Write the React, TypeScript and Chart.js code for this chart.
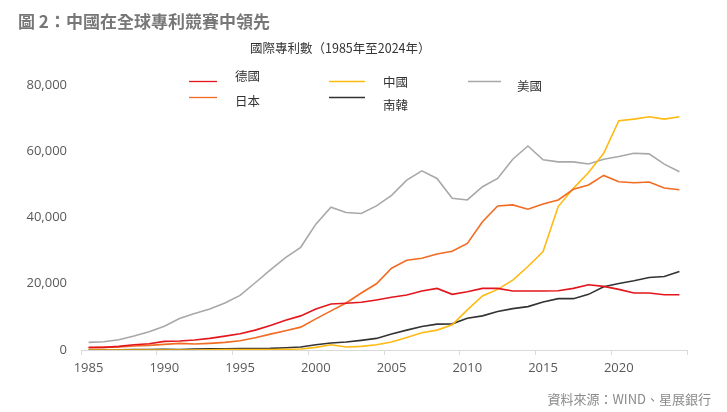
import React, { useEffect, useRef } from "react";
import { Chart, registerables } from "chart.js";

Chart.register(...registerables);

const years = [
  1985, 1986, 1987, 1988, 1989, 1990, 1991, 1992, 1993, 1994,
  1995, 1996, 1997, 1998, 1999, 2000, 2001, 2002, 2003, 2004,
  2005, 2006, 2007, 2008, 2009, 2010, 2011, 2012, 2013, 2014,
  2015, 2016, 2017, 2018, 2019, 2020, 2021, 2022, 2023, 2024,
];

const germany = [
  800, 800, 1100, 1600, 1900, 2600, 2700, 3000, 3500, 4200,
  4900, 6000, 7400, 9000, 10300, 12400, 13900, 14100, 14400, 15100,
  15900, 16600, 17800, 18600, 16800, 17600, 18600, 18600, 17800, 17800,
  17800, 17900, 18600, 19700, 19200, 18300, 17200, 17200, 16700, 16700,
];

const japan = [
  700, 800, 900, 1200, 1400, 1700, 2000, 1800, 2000, 2300,
  2800, 3700, 4800, 5800, 6900, 9400, 11800, 14200, 17200, 20000,
  24700, 27100, 27700, 29000, 29800, 32200, 38700, 43500, 43800, 42500,
  44100, 45300, 48500, 49800, 52700, 50800, 50500, 50700, 48900, 48400,
];

const china = [
  0, 0, 0, 0, 0, 0, 0, 0, 50, 100,
  100, 100, 150, 200, 300, 800, 1600, 900, 1100, 1600,
  2400, 3800, 5200, 6000, 7600, 12100, 16300, 18300, 21100, 25200,
  29700, 43300, 48800, 53600, 59400, 69200, 69700, 70400, 69700, 70400,
];

const korea = [
  50, 60, 80, 100, 150, 200, 150, 300, 350, 400,
  450, 450, 500, 700, 900, 1600, 2100, 2400, 2900, 3500,
  4800, 6000, 7100, 7800, 7900, 9600, 10300, 11600, 12500, 13100,
  14500, 15500, 15500, 16800, 19100, 20100, 20900, 21900, 22200, 23700,
];

const usa = [
  2300, 2500, 3100, 4200, 5500, 7200, 9500, 11000, 12400, 14200,
  16500, 20300, 24200, 27900, 31000, 38000, 43100, 41500, 41200, 43500,
  46700, 51300, 54100, 51800, 45800, 45300, 49300, 51800, 57600, 61600,
  57400, 56800, 56800, 56150, 57600, 58400, 59400, 59200, 56100, 53800,
];

const seriesNames = ["德國", "日本", "中國", "南韓", "美國"];
const seriesColors = ["#E3161D", "#F26B22", "#FFBA12", "#333333", "#A8A8A8"];
const xTickLabels = [1985, 1990, 1995, 2000, 2005, 2010, 2015, 2020];
const yTickValues = [0, 20000, 40000, 60000, 80000];

const titleText = "圖 2：中國在全球專利競賽中領先";
const subtitleText = "國際專利數（1985年至2024年）";
const sourceText = "資料來源：WIND、星展銀行";

const CJK = '"Noto Sans CJK TC", "Noto Sans", sans-serif';

// legend layout: [lineX1, lineX2, lineY, textX, textY]
const legendLayout = [
  [189, 217, 81.5, 235, 76],
  [189, 217, 97.5, 235, 101],
  [329, 365, 81.5, 383, 82],
  [329, 365, 97.5, 383, 105],
  [468, 501, 81.5, 517, 86],
];

const decorPlugin = {
  id: "decor",
  afterDraw(chart: any) {
    const ctx = chart.ctx;
    ctx.save();
    // title
    ctx.fillStyle = "#777777";
    ctx.font = `bold 17px ${CJK}`;
    ctx.textBaseline = "middle";
    ctx.textAlign = "left";
    ctx.fillText(titleText, 18, 22);
    // subtitle
    ctx.fillStyle = "#333333";
    ctx.font = `12.5px ${CJK}`;
    ctx.fillText(subtitleText, 250, 48);
    // legend
    chart.data.datasets.forEach((ds: any, i: number) => {
      const l = legendLayout[i];
      ctx.strokeStyle = ds.borderColor;
      ctx.lineWidth = 1.3;
      ctx.beginPath();
      ctx.moveTo(l[0], l[2]);
      ctx.lineTo(l[1], l[2]);
      ctx.stroke();
      ctx.fillStyle = "#333333";
      ctx.font = `12.5px ${CJK}`;
      ctx.fillText(ds.label, l[3], l[4]);
    });
    // source
    ctx.fillStyle = "#8a8a8a";
    ctx.font = `13px ${CJK}`;
    ctx.textAlign = "right";
    ctx.fillText(sourceText, 711, 399);
    ctx.restore();
  },
};

export default function App() {
  const canvasRef = useRef<HTMLCanvasElement | null>(null);

  useEffect(() => {
    if (!canvasRef.current) return;
    const allSeries = [germany, japan, china, korea, usa];
    const chart = new Chart(canvasRef.current, {
      type: "line",
      data: {
        datasets: allSeries.map((s, i) => ({
          label: seriesNames[i],
          data: years.map((y, j) => ({ x: y, y: s[j] })),
          borderColor: seriesColors[i],
          backgroundColor: seriesColors[i],
          borderWidth: 1.6,
          pointRadius: 0,
          tension: 0,
          fill: false,
        })),
      },
      options: {
        responsive: false,
        animation: false,
        layout: { padding: { top: 85, right: 40, left: 0, bottom: 0 } },
        plugins: {
          legend: { display: false },
          title: { display: false },
          tooltip: { enabled: false },
        },
        scales: {
          x: {
            type: "linear",
            min: years[0] - 0.5,
            max: years[years.length - 1] + 0.5,
            afterBuildTicks: (scale: any) => {
              const t = xTickLabels.map((v) => ({ value: v - 0.5 }));
              t.push({ value: years[years.length - 1] + 0.5 });
              scale.ticks = t;
            },
            afterFit: (scale: any) => {
              scale.height = 62;
            },
            grid: {
              drawOnChartArea: false,
              drawTicks: true,
              tickLength: 5,
              color: "#D9D9D9",
            },
            border: { display: true, color: "#D9D9D9", width: 1 },
            ticks: {
              autoSkip: false,
              maxRotation: 0,
              labelOffset: 7.5,
              padding: 5,
              color: "#595959",
              font: { family: '"Open Sans", sans-serif', size: 13 },
              callback: (value: any) => {
                const y = Math.round(Number(value) + 0.5);
                return xTickLabels.includes(y) ? String(y) : "";
              },
            },
          },
          y: {
            min: 0,
            max: 80000,
            afterBuildTicks: (scale: any) => {
              scale.ticks = yTickValues.map((v) => ({ value: v }));
            },
            afterFit: (scale: any) => {
              scale.width = 81;
            },
            grid: { display: false, drawTicks: false },
            border: { display: false },
            ticks: {
              padding: 14,
              color: "#595959",
              font: { family: '"Open Sans", sans-serif', size: 13 },
              callback: (value: any) => Number(value).toLocaleString("en-US"),
            },
          },
        },
      },
      plugins: [decorPlugin],
    });
    return () => chart.destroy();
  }, []);

  return (
    <div
      style={{
        position: "absolute",
        left: 0,
        top: 0,
        width: 727,
        height: 412,
        background: "#ffffff",
      }}
    >
      <canvas ref={canvasRef} width={727} height={412} style={{ width: 727, height: 412 }} />
    </div>
  );
}
